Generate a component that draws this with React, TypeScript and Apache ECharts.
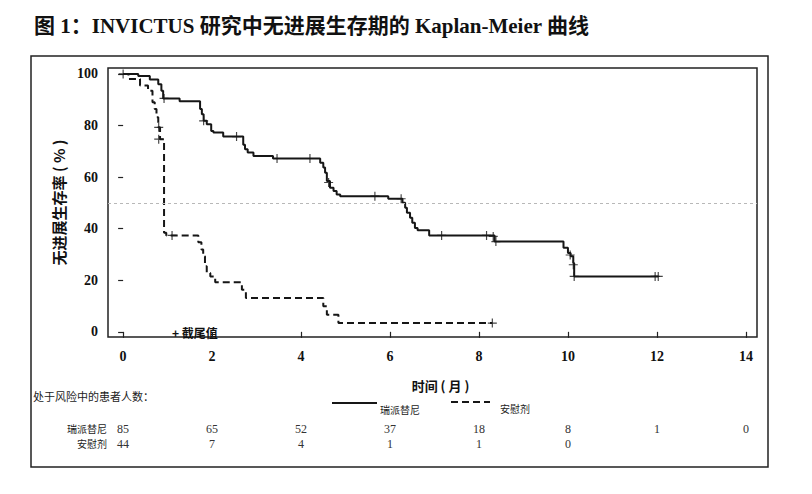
import React, { useEffect, useRef } from 'react';
import * as echarts from 'echarts';

// Kaplan-Meier step points [time (months), survival %]
const ripretinibSteps: number[][] = [
  [0, 100], [0.34, 99.2], [0.6, 97.8], [0.79, 96.0], [0.86, 93.5], [0.9, 90.5],
  [1.27, 89.4], [1.73, 86.4], [1.77, 84.4], [1.81, 81.8], [1.88, 80.5], [1.98, 77.9],
  [2.03, 77.3], [2.25, 75.7], [2.7, 72.5], [2.74, 70.8], [2.8, 69.5], [2.93, 68.2],
  [3.37, 67.2], [4.43, 65.6], [4.5, 63.7], [4.54, 61.7], [4.58, 58.5], [4.65, 55.9],
  [4.73, 54.6], [4.8, 53.3], [4.88, 52.6], [5.96, 51.6], [6.28, 50.1], [6.34, 48.1],
  [6.38, 46.2], [6.45, 44.2], [6.5, 42.3], [6.56, 40.3], [6.62, 39.4], [6.88, 37.4],
  [8.35, 35.0], [9.9, 32.6], [10.0, 30.6], [10.06, 29.3], [10.12, 26.7], [10.14, 21.5],
  [12.03, 21.5]
];
const placeboSteps: number[][] = [
  [0, 100], [0.12, 98], [0.38, 95.5], [0.56, 93.5], [0.66, 89.0], [0.71, 86.4],
  [0.75, 83.2], [0.79, 79.3], [0.83, 74.7], [0.92, 38.4], [0.97, 37.4], [1.69, 34.7],
  [1.76, 31.9], [1.8, 29.3], [1.84, 25.4], [1.88, 22.8], [1.96, 21.5], [2.07, 19.2],
  [2.67, 16.3], [2.76, 13.1], [4.5, 9.9], [4.58, 6.6], [4.84, 3.4], [8.3, 3.4]
];
// censored observations
const ripretinibCensored: number[][] = [
  [0, 100], [0.92, 90.5], [1.81, 81.8], [2.55, 75.7], [3.46, 67.2], [4.2, 67.2],
  [4.62, 57.9], [5.66, 52.6], [6.25, 51.6], [7.16, 37.4], [8.17, 37.4], [8.32, 37.0],
  [8.38, 35.0], [10.05, 29.8], [10.12, 26.0], [10.14, 21.5], [11.96, 21.5], [12.03, 21.5]
];
const placeboCensored: number[][] = [
  [0.8, 79.3], [0.8, 74.7], [1.1, 37.4], [8.3, 3.4]
];

const xTicks = [0, 2, 4, 6, 8, 10, 12, 14];
const yTicks = [0, 20, 40, 60, 80, 100];

const groups = ['瑞派替尼', '安慰剂'];
const riskTimes = [0, 2, 4, 6, 8, 10, 12, 14];
const riskRipretinib = [85, 65, 52, 37, 18, 8, 1, 0];
const riskPlacebo = [44, 7, 4, 1, 1, 0];

const titleText = '图 1：INVICTUS 研究中无进展生存期的 Kaplan-Meier 曲线';

const X_MIN = -0.34;
const X_MAX = 14.25;
const SERIF = '"Liberation Serif", "Noto Sans CJK SC", serif';
const CJK = '"Noto Sans CJK SC", sans-serif';
const INK = '#161616';
const PLUS = 'path://M-0.13,-1H0.13V-0.13H1V0.13H0.13V1H-0.13V0.13H-1V-0.13H-0.13Z';

function riskAxis(name: string, counts: number[], offset: number) {
  const times = riskTimes.slice(0, counts.length);
  return {
    type: 'value', gridIndex: 0, min: X_MIN, max: X_MAX, position: 'bottom', offset,
    axisLine: { show: false }, axisTick: { show: false }, splitLine: { show: false },
    axisLabel: {
      customValues: times, margin: 0, verticalAlign: 'top', lineHeight: 12,
      formatter: (v: number) => String(counts[times.indexOf(v)]),
      fontFamily: SERIF, fontSize: 12, color: '#333'
    },
    name, nameLocation: 'start', nameGap: 1,
    nameTextStyle: { fontFamily: CJK, fontSize: 10, lineHeight: 11, color: '#222', verticalAlign: 'top', align: 'right' }
  };
}

export default function App() {
  const ref = useRef<HTMLDivElement>(null);
  useEffect(() => {
    const chart = echarts.init(ref.current!, null, { renderer: 'svg' });
    chart.setOption({
      animation: false,
      backgroundColor: '#ffffff',
      title: {
        text: titleText,
        left: 29,
        top: 10,
        textStyle: { fontFamily: SERIF, fontWeight: 'bold', fontSize: 21, color: '#111' }
      },
      grid: [
        { left: 108, top: 68, right: 55, bottom: 157, show: true, borderColor: '#222', borderWidth: 1.5, backgroundColor: 'transparent' }
      ],
      xAxis: [
        {
          type: 'value', gridIndex: 0, min: X_MIN, max: X_MAX, position: 'bottom',
          axisLine: { show: false },
          axisTick: { show: true, customValues: xTicks, length: 6, lineStyle: { color: '#222', width: 1.2 } },
          axisLabel: { customValues: xTicks, margin: 12, fontFamily: SERIF, fontWeight: 'bold', fontSize: 14, color: '#111' },
          splitLine: { show: false },
          name: '时间 ( 月 )', nameLocation: 'middle', nameGap: 42,
          nameTextStyle: { fontFamily: CJK, fontWeight: 'bold', fontSize: 13, color: '#111', padding: [0, 0, 0, 16] }
        },
        riskAxis(groups[0], riskRipretinib, 86),
        riskAxis(groups[1], riskPlacebo, 101)
      ],
      yAxis: [
        {
          type: 'value', gridIndex: 0, min: -2, max: 102.3,
          axisLine: { show: false },
          axisTick: { show: true, customValues: yTicks, length: 5, lineStyle: { color: '#222', width: 1.2 } },
          axisLabel: { customValues: yTicks, margin: 10, fontFamily: SERIF, fontWeight: 'bold', fontSize: 14, color: '#111' },
          splitLine: { show: false },
          name: '无进展生存率 ( % )', nameLocation: 'middle', nameGap: 42,
          nameTextStyle: { fontFamily: CJK, fontWeight: 'bold', fontSize: 15, color: '#111' }
        }
      ],
      series: [
        {
          name: '瑞派替尼', type: 'line', step: 'end', data: ripretinibSteps, showSymbol: false, symbol: 'none',
          lineStyle: { color: INK, width: 2 }, silent: true,
          markLine: {
            silent: true, symbol: 'none', label: { show: false },
            lineStyle: { color: '#b8b8b8', type: [3, 3], width: 1 },
            data: [{ yAxis: 50 }]
          }
        },
        {
          name: '安慰剂', type: 'line', step: 'end', data: placeboSteps, showSymbol: false, symbol: 'none',
          lineStyle: { color: INK, width: 2, type: [7, 4] }, silent: true
        },
        {
          type: 'scatter', data: ripretinibCensored, symbol: PLUS, symbolSize: 9,
          itemStyle: { color: INK }, silent: true
        },
        {
          type: 'scatter', data: placeboCensored, symbol: PLUS, symbolSize: 9,
          itemStyle: { color: INK }, silent: true
        }
      ],
      graphic: [
        { type: 'rect', shape: { x: 31, y: 56, width: 737, height: 411 }, style: { fill: 'none', stroke: '#222', lineWidth: 1.5 }, silent: true },
        { type: 'text', x: 172, y: 332, style: { text: '+ 截尾值', fontFamily: CJK, fontWeight: 'bold', fontSize: 12, fill: '#111', textVerticalAlign: 'middle' }, silent: true },
        { type: 'text', x: 33, y: 396, style: { text: '处于风险中的患者人数：', fontFamily: CJK, fontSize: 11, fill: '#222', textVerticalAlign: 'middle' }, silent: true },
        { type: 'line', shape: { x1: 332, y1: 403, x2: 377, y2: 403 }, style: { stroke: INK, lineWidth: 2 }, silent: true },
        { type: 'text', x: 380, y: 409, style: { text: '瑞派替尼', fontFamily: CJK, fontSize: 10, fill: '#222', textVerticalAlign: 'middle' }, silent: true },
        { type: 'line', shape: { x1: 451, y1: 402, x2: 490, y2: 402 }, style: { stroke: INK, lineWidth: 2, lineDash: [7, 4] }, silent: true },
        { type: 'text', x: 500, y: 408, style: { text: '安慰剂', fontFamily: CJK, fontSize: 10, fill: '#222', textVerticalAlign: 'middle' }, silent: true }
      ]
    });
    return () => chart.dispose();
  }, []);
  return <div ref={ref} style={{ position: 'fixed', left: 0, top: 0, width: 812, height: 494, background: '#fff' }} />;
}
